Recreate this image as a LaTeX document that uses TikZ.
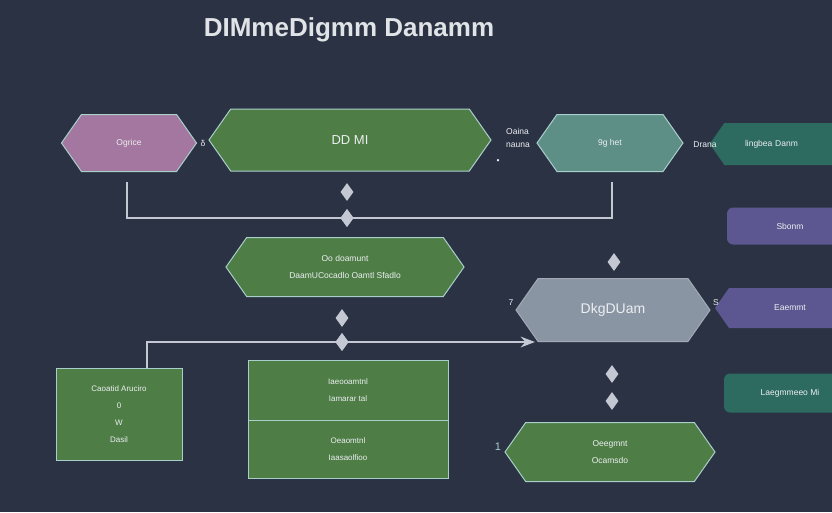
\documentclass[tikz,border=0pt]{standalone}
\usepackage{fontspec}
\setmainfont{Liberation Sans}
\usepackage{tikz}
\usetikzlibrary{shapes.geometric,shapes.symbols,positioning,arrows.meta}

\definecolor{bgc}{HTML}{2B3244}
\definecolor{linec}{HTML}{C3C8D3}
\definecolor{edgec}{HTML}{A9CFCB}
\definecolor{pinkc}{HTML}{A3779F}
\definecolor{greenc}{HTML}{4E7D46}
\definecolor{tealc}{HTML}{5E8F86}
\definecolor{dteal}{HTML}{2D6A60}
\definecolor{purc}{HTML}{5C5790}
\definecolor{grayc}{HTML}{8A95A4}
\definecolor{txtc}{HTML}{ECEFF2}

\begin{document}
\begin{tikzpicture}
[x=1pt,y=-1pt,>=Stealth,
hexa/.style = {signal, signal to=west and east, signal pointer angle=110, draw=edgec, line width=1pt, text=txtc, font=\fontsize{8.5}{17}\selectfont, align=center, inner sep=2pt},
tab/.style = {draw=none, rounded corners=6pt, text=txtc, font=\fontsize{8.5}{10}\selectfont, inner sep=2pt},
gbox/.style = {rectangle, draw=edgec, line width=1pt, fill=greenc, text=txtc, font=\fontsize{8}{17}\selectfont, align=center},
dia/.style = {diamond, fill=linec, inner sep=0pt, minimum width=13, minimum height=18},
conn/.style = {draw=linec, line width=2.5pt},
note/.style = {text=txtc, font=\fontsize{8.5}{13}\selectfont, align=left, inner sep=0pt},]
\fill[bgc] (0,0) rectangle (832,512);
\useasboundingbox (0,0) rectangle (832,512);

\node (title) at (349,30)[text=txtc!90!gray, font=\fontsize{26}{30}\selectfont\bfseries] {DIMmeDigmm Danamm};

% top row
\node (ogr) at (129,143)[hexa, fill=pinkc, minimum width=135, minimum height=57] {Ogrice};
\node (ddmi) at (350,140)[hexa, fill=greenc, minimum width=282, minimum height=62, font=\fontsize{13}{15}\selectfont] {DD MI};
\node (sghet) at (610,143)[hexa, fill=tealc, minimum width=146, minimum height=57] {9g het};
\node (lingb) at (800,144)[hexa, signal to=west, draw=none, fill=dteal, minimum width=166, minimum height=42, text width=110, align=left] {lingbea Danm};

\node (d1) at (203,143)[note] {δ};
\node (oaina) at (518,138)[note] {Oaina\\nauna};
\node (dot) at (498,162)[note] {•};
\node (drana) at (705,145)[note] {Drana};

% bracket
\coordinate (b1) at (127,182);
\coordinate (b2) at (612,182);
\node (m1) at (347,192)[dia] {};
\node (m2) at (347,218)[dia] {};
\draw[conn] (b1) |- (m2.center) -| (b2);
\node (m2) at (347,218)[dia] {};

% middle
\node (sbon) at (790,226)[tab, fill=purc, minimum width=126, minimum height=37] {Sbonm};
\node (odoc) at (345,267)[hexa, fill=greenc, minimum width=238, minimum height=59] {Oo doamunt\\DaamUCocadlo Oamtl Sfadlo};
\node (m3) at (614,262)[dia] {};
\node (dkg) at (613,310)[hexa, fill=grayc, draw=grayc!80!white, minimum width=194, minimum height=63, font=\fontsize{14}{16}\selectfont] {DkgDUam};
\node (eaem) at (790,308)[hexa, signal to=west, draw=none, fill=purc, minimum width=136, minimum height=40] {Eaemmt};
\node (n7) at (511,303)[note] {7};
\node (n8) at (716,303)[note] {S};
\node (m4) at (342,318)[dia] {};

% arrow
\node (cact) at (119,414)[gbox, minimum width=126, minimum height=92] {Caoatid Aruciro\\0\\W\\Dasil};
\coordinate (a1) at (147,368);
\coordinate (a2) at (535,342);
\node (m5) at (342,342)[dia] {};
\draw[conn, ->] (a1) |- (a2);
\node (m5) at (342,342)[dia] {};

% bottom
\node (iae) at (348,390)[gbox, minimum width=200, minimum height=60] {Iaeooamtnl\\Iamarar tal};
\node (oea) at (348,449)[gbox, minimum width=200, minimum height=58] {Oeaomtnl\\Iaasaolfioo};
\node (m6) at (612,374)[dia] {};
\node (m7) at (612,401)[dia] {};
\node (laeg) at (790,393)[tab, fill=dteal, minimum width=132, minimum height=39] {Laegmmeeo Mi};
\node (oeeg) at (610,452)[hexa, fill=greenc, minimum width=210, minimum height=59] {Oeegmnt\\Ocamsdo};
\node (n1) at (498,447)[note, text=edgec, font=\fontsize{11}{12}\selectfont] {1};

\end{tikzpicture}
\end{document}
